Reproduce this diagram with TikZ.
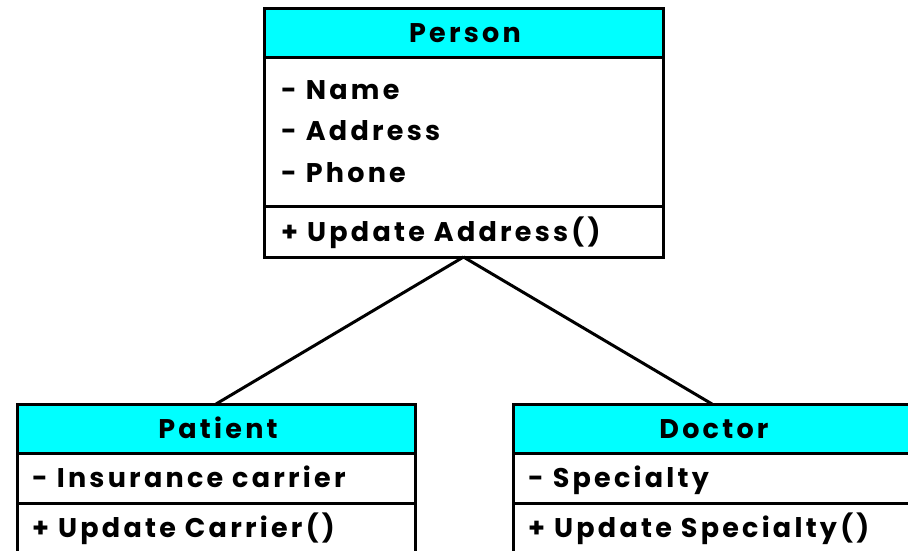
\documentclass[tikz,border=0pt]{standalone}
\usepackage{fontspec}
\setmainfont{Poppins}[LetterSpace=12]
\definecolor{headcyan}{HTML}{00FFFF}
\tikzset{
  frame/.style={draw=black, line width=3pt, inner sep=0pt, outer sep=0pt, anchor=north west},
  head/.style={frame, fill=headcyan},
  body/.style={frame, fill=white},
  title/.style={anchor=base, inner sep=0pt, font=\fontsize{27}{27}\selectfont\bfseries},
  entry/.style={anchor=base west, inner sep=0pt, font=\fontsize{27}{27}\selectfont\bfseries},
  link/.style={draw=black, line width=3pt}
}
\begin{document}
\begin{tikzpicture}[x=1pt, y=-1pt]
\useasboundingbox (0,0) rectangle (908,550);
% Person
\node[head, minimum width=399pt, minimum height=49pt]  (personH) at (264,8) {};
\node[body, minimum width=399pt, minimum height=149pt] (personA) at (264,57) {};
\node[body, minimum width=399pt, minimum height=51pt]  (personM) at (264,206) {};
\node[title] (personT) at (465,42) {Person};
\node[entry] (pa1) at (281,99)  {- Name};
\node[entry] (pa2) at (281,140) {- Address};
\node[entry] (pa3) at (281,182) {- Phone};
\node[entry] (pm1) at (281,241) {+ Update Address()};
% Patient
\node[head, minimum width=398pt, minimum height=49pt]  (patientH) at (17,404) {};
\node[body, minimum width=398pt, minimum height=50pt]  (patientA) at (17,453) {};
\node[body, minimum width=398pt, minimum height=60pt]  (patientM) at (17,503) {};
\node[title] (patientT) at (218,438) {Patient};
\node[entry] (ta1) at (32,487) {- Insurance carrier};
\node[entry] (tm1) at (32,537) {+ Update Carrier()};
% Doctor
\node[head, minimum width=398pt, minimum height=49pt]  (doctorH) at (513,404) {};
\node[body, minimum width=398pt, minimum height=50pt]  (doctorA) at (513,453) {};
\node[body, minimum width=398pt, minimum height=60pt]  (doctorM) at (513,503) {};
\node[title] (doctorT) at (714,438) {Doctor};
\node[entry] (da1) at (528,487) {- Specialty};
\node[entry] (dm1) at (528,537) {+ Update Specialty()};
% Generalisation links
\draw[link] (personM.south) -- (patientH.north);
\draw[link] (personM.south) -- (doctorH.north);
\end{tikzpicture}
\end{document}
